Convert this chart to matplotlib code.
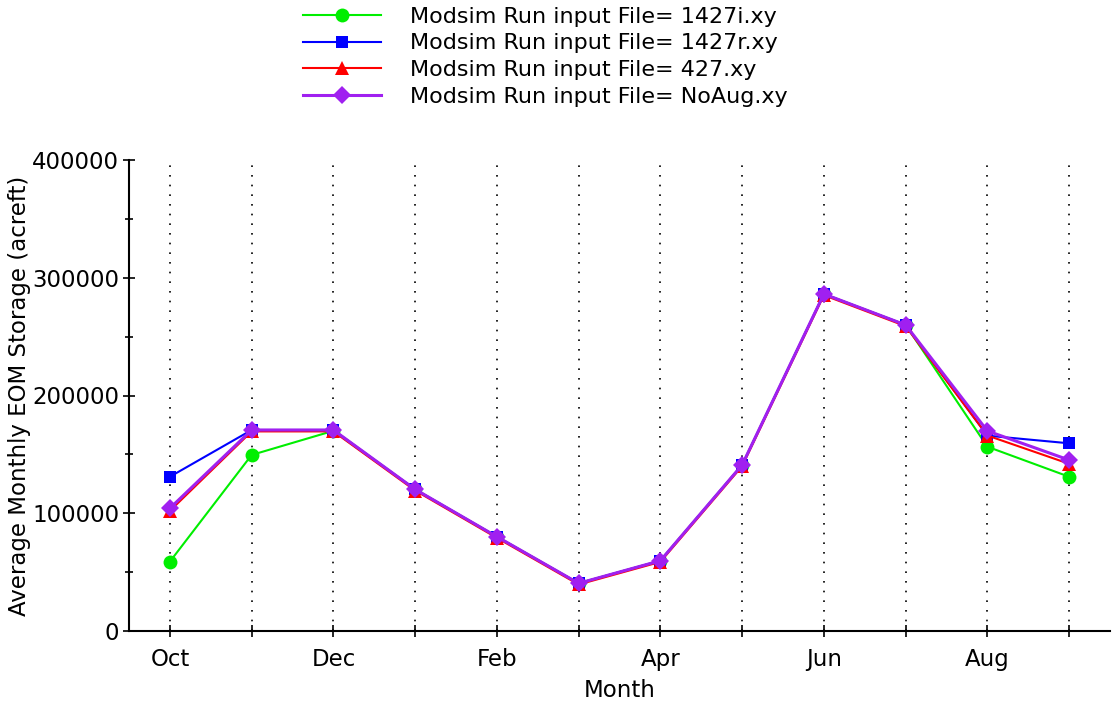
import matplotlib
matplotlib.use("Agg")
import matplotlib.pyplot as plt
from matplotlib.ticker import MultipleLocator

plt.rcParams['font.family'] = ['DejaVu Sans']

months = ['Oct', 'Nov', 'Dec', 'Jan', 'Feb', 'Mar', 'Apr', 'May', 'Jun', 'Jul', 'Aug', 'Sep']
tick_labels = ['Oct', '', 'Dec', '', 'Feb', '', 'Apr', '', 'Jun', '', 'Aug', '']

s_1427i = [58900, 149500, 170000, 120300, 80100, 40500, 59700, 141000, 286200, 259900, 156500, 131000]
s_1427r = [131000, 170700, 170700, 120300, 80100, 40500, 59700, 141000, 286200, 259900, 165900, 159400]
s_427 = [102000, 169500, 169500, 119300, 79100, 39500, 58700, 140000, 285200, 258900, 166000, 142000]
s_noaug = [104200, 170700, 170700, 120300, 80100, 40500, 59700, 141000, 286200, 259900, 169900, 145200]

series = [
    ('Modsim Run input File= 1427i.xy', s_1427i, '#00ee00', 'o', 1.5, 10),
    ('Modsim Run input File= 1427r.xy', s_1427r, '#0000ff', 's', 1.5, 9),
    ('Modsim Run input File= 427.xy', s_427, '#ff0000', '^', 1.5, 10),
    ('Modsim Run input File= NoAug.xy', s_noaug, '#a020f0', 'D', 2.2, 9),
]

fig = plt.figure(figsize=(11.18, 7.03), dpi=100)
ax = fig.add_axes([129/1118, 72/703, (1110-129)/1118, (631-160)/703])

x = list(range(len(months)))
for label, vals, color, marker, lw, ms in series:
    ax.plot(x, vals, color=color, marker=marker, markersize=ms, linewidth=lw,
            label=label, markeredgewidth=0)

ax.set_xlim(-0.5, 11.5)
ax.set_ylim(0, 400000)
ax.set_xticks(x)
ax.set_xticklabels(tick_labels)
ax.yaxis.set_major_locator(MultipleLocator(100000))
ax.yaxis.set_minor_locator(MultipleLocator(50000))
ax.tick_params(axis='both', which='both', direction='inout', length=8, width=1.2,
               labelsize=16.5)
ax.tick_params(axis='x', pad=8)
ax.tick_params(axis='y', which='minor', length=6)
ax.tick_params(axis='y', pad=3)

for xi in x:
    ax.axvline(xi, color='black', linestyle=(0, (1, 4.8)), linewidth=1.2, zorder=0)

for sp in ['top', 'right']:
    ax.spines[sp].set_visible(False)
for sp in ['left', 'bottom']:
    ax.spines[sp].set_linewidth(1.5)

ax.set_xlabel('Month', fontsize=16.5, labelpad=6)
ax.set_ylabel('Average Monthly EOM Storage (acreft)', fontsize=16.5, labelpad=1)

handles, labels = ax.get_legend_handles_labels()
fig.legend(handles, labels, loc='upper left', bbox_to_anchor=(294/1118, 1.003),
           frameon=False, fontsize=16, handlelength=3.5, handletextpad=1.3,
           labelspacing=0.3, borderaxespad=0.0)

fig.savefig('out.png', dpi=100)
